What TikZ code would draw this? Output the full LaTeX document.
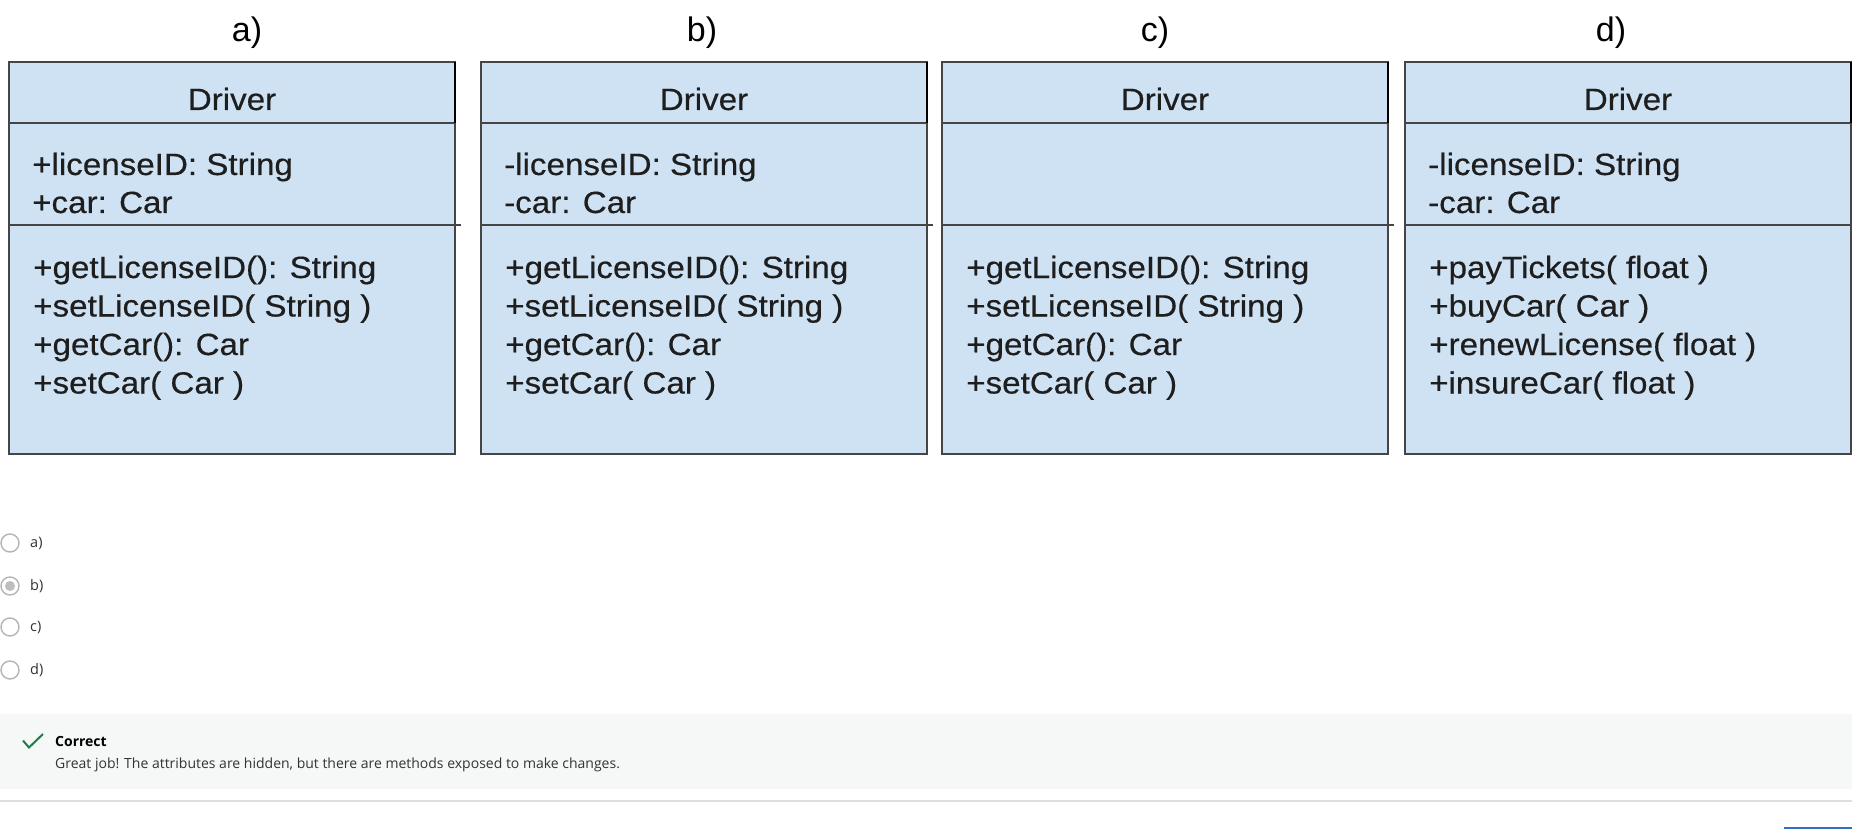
\documentclass[tikz,border=0pt]{standalone}
\usepackage{fontspec}
\newfontfamily\umlfont[FakeStretch=1.08,FakeBold=0.4]{Liberation Sans}
\newfontfamily\labfont{Liberation Sans}
\newfontfamily\uifont{Open Sans}
\definecolor{boxfill}{HTML}{CFE2F3}
\definecolor{boxline}{HTML}{454545}
\definecolor{umltext}{HTML}{1E1E1E}
\definecolor{radioline}{HTML}{B5B5B5}
\definecolor{radiodot}{HTML}{BDBDBD}
\definecolor{uitext}{HTML}{333333}
\definecolor{fbfill}{HTML}{F5F8F7}
\definecolor{sepline}{HTML}{DEDEDE}
\definecolor{okgreen}{HTML}{1D7D4B}
\definecolor{btnblue}{HTML}{2F6FC6}
\tikzset{
  umltxt/.style={anchor=base west, inner sep=0pt, text=umltext, font=\umlfont\fontsize{30.7}{36}\selectfont},
  umlhead/.style={anchor=base, inner sep=0pt, text=umltext, font=\umlfont\fontsize{30.7}{36}\selectfont},
  choicelabel/.style={anchor=base, inner sep=0pt, text=black, font=\labfont\fontsize{34}{40}\selectfont},
  boxborder/.style={draw=boxline, line width=1.6pt},
  radio/.style={draw=radioline, fill=white, line width=1.4pt},
  radiotxt/.style={anchor=west, inner sep=0pt, text=uitext, font=\uifont\fontsize{14.5}{17}\selectfont},
  fbtxt/.style={anchor=west, inner sep=0pt, text=uitext, font=\uifont\fontsize{14}{17}\selectfont},
}
\newcommand\classbox[2]{% #1 left x, #2 name
  \fill[boxfill] (#1,62) rectangle ++(446,392);
  \draw[boxborder] (#1,62) rectangle ++(446,392);
  \draw[boxborder] (#1,123) -- ++(446,0);
  \draw[boxborder] (#1,225) -- ++(452,0);
  \draw[black, line width=2.6pt] (#1+446,62) -- (#1+446,123);
  \node[umlhead] (#2-name) at (#1+223,110) {Driver};
}
\begin{document}
\begin{tikzpicture}[x=1pt, y=-1pt]
\useasboundingbox (0,0) rectangle (1852,829);
\fill[white] (0,0) rectangle (1852,829);

% choice labels
\node[choicelabel] (la) at (247,42) {a)};
\node[choicelabel] (lb) at (702,42) {b)};
\node[choicelabel] (lc) at (1155,42) {c)};
\node[choicelabel] (ld) at (1611,42) {d)};

% class boxes
\classbox{9}{a}
\classbox{481}{b}
\classbox{942}{c}
\classbox{1405}{d}

% attributes
\foreach \t [count=\i] in {+licenseID: String, +car: Car}
  \node[umltxt] (a-attr-\i) at (32,175+38*\i-38) {\t};
\foreach \t [count=\i] in {-licenseID: String, -car: Car}
  \node[umltxt] (b-attr-\i) at (504,175+38*\i-38) {\t};
\foreach \t [count=\i] in {-licenseID: String, -car: Car}
  \node[umltxt] (d-attr-\i) at (1428,175+38*\i-38) {\t};

% methods
\foreach \t [count=\i] in {+getLicenseID(): String, +setLicenseID( String ), +getCar(): Car, +setCar( Car )}
  \node[umltxt] (a-meth-\i) at (33,278+38.5*\i-38.5) {\t};
\foreach \t [count=\i] in {+getLicenseID(): String, +setLicenseID( String ), +getCar(): Car, +setCar( Car )}
  \node[umltxt] (b-meth-\i) at (505,278+38.5*\i-38.5) {\t};
\foreach \t [count=\i] in {+getLicenseID(): String, +setLicenseID( String ), +getCar(): Car, +setCar( Car )}
  \node[umltxt] (c-meth-\i) at (966,278+38.5*\i-38.5) {\t};
\foreach \t [count=\i] in {+payTickets( float ), +buyCar( Car ), +renewLicense( float ), +insureCar( float )}
  \node[umltxt] (d-meth-\i) at (1429,278+38.5*\i-38.5) {\t};

% radio buttons
\foreach \y/\l [count=\i] in {543/a), 586/b), 627/c), 670/d)} {
  \draw[radio] (10,\y) circle[radius=9];
  \node[radiotxt] (opt-\i) at (30,\y) {\l};
}
\fill[radiodot] (10,586) circle[radius=5];

% feedback
\fill[fbfill] (0,714) rectangle (1852,789);
\draw[okgreen, line width=2pt, line join=miter] (23,740.5) -- (29,747.5) -- (43,734);
\node[fbtxt, font=\uifont\bfseries\fontsize{14}{17}\selectfont, text=black] (fbtitle) at (55,741) {Correct};
\node[fbtxt] (fbbody) at (55,765) {Great job! The attributes are hidden, but there are methods exposed to make changes.};
\draw[sepline, line width=1.5pt] (0,801) -- (1852,801);
\fill[btnblue] (1784,827) rectangle (1852,829);
\end{tikzpicture}
\end{document}
